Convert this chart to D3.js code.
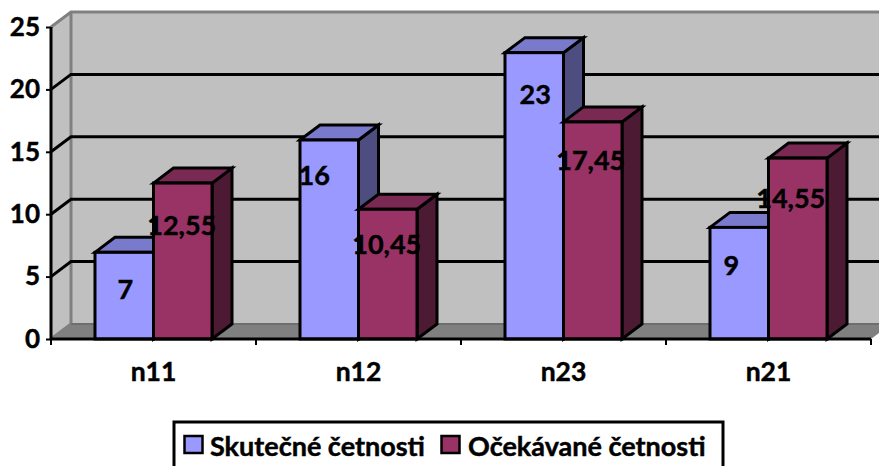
<!DOCTYPE html>
<html><head><meta charset="utf-8">
<script src="https://cdn.jsdelivr.net/npm/d3@7/dist/d3.min.js"></script>
<style>html,body{margin:0;padding:0;background:#fff;overflow:hidden}svg{display:block}text{font-family:Lato,"Open Sans",sans-serif;font-weight:700;fill:#000;stroke:#000;stroke-width:.45px}</style>
</head><body><svg id="c" width="879" height="466"></svg>
<script>
const categories = ["n11","n12","n23","n21"];
const seriesNames = ["Skutečné četnosti","Očekávané četnosti"];
const actualValues = [7,16,23,9];
const expectedValues = [12.55,10.45,17.45,14.55];
const actualLabels = ["7","16","23","9"];
const expectedLabels = ["12,55","10,45","17,45","14,55"];
const yTicks = [0,5,10,15,20,25];

// layout
const W=879,H=466,plotLeft=51,plotRight=871,base=339,plotTop=27,dx=20,dy=-15,barNudge=0.7;
const palette=[{front:"#9999FF",top:"#7A7ACC",side:"#4D4D80"},{front:"#993366",top:"#7A2952",side:"#4D1A33"}];
const labelShift=[[[1,37],[-1,42]],[[-15,35],[-1,35]],[[1,42],[-2,38]],[[-8,38],[-7,40]]];

const svg=d3.select("#c");
const x=d3.scaleBand().domain(categories).range([plotLeft,plotRight]);
const inner=d3.scaleBand().domain([0,1]).range([x.bandwidth()*0.2146,x.bandwidth()*0.7854]);
const y=d3.scaleLinear().domain([0,25]).range([base,plotTop]);
const poly=p=>p.map(q=>q.join(",")).join(" ");

// walls and floor
svg.append("polygon").attr("points",poly([[plotLeft,y(25)],[plotLeft+dx,y(25)+dy],[W+20,y(25)+dy],[W+20,base+dy],[plotLeft+dx,base+dy],[plotLeft,base]])).attr("fill","#C0C0C0");
svg.append("polygon").attr("points",poly([[plotLeft,base],[plotLeft+dx,base+dy],[plotRight+dx,base+dy],[plotRight,base]])).attr("fill","#808080");
const edge="#808080";
svg.append("path").attr("d",`M${plotLeft},${y(25)}L${plotLeft+dx},${y(25)+dy}L${W+5},${y(25)+dy}M${plotLeft+dx},${y(25)+dy}V${base+dy}L${plotLeft},${base}`).attr("fill","none").attr("stroke",edge).attr("stroke-width",3);
svg.append("line").attr("x1",plotLeft+dx).attr("x2",plotRight+dx).attr("y1",base+dy).attr("y2",base+dy).attr("stroke","#6e6e6e").attr("stroke-width",2);

// gridlines
svg.append("g").selectAll("path").data(yTicks.filter(d=>d>0&&d<25)).join("path")
  .attr("d",d=>`M${plotLeft},${y(d)}L${plotLeft+dx},${y(d)+dy}H${W+5}`)
  .attr("fill","none").attr("stroke","#000").attr("stroke-width",3);

// bars
const series=[actualValues,expectedValues];
categories.forEach((c,i)=>{
  series.forEach((vals,s)=>{
    const v=vals[i],x0=x(c)+inner(s),x1=x0+inner.bandwidth(),t=y(v)+barNudge,col=palette[s];
    const g=svg.append("g").attr("stroke","#000").attr("stroke-width",3).attr("stroke-linejoin","miter");
    g.append("polygon").attr("points",poly([[x1,t],[x1+dx,t+dy],[x1+dx,base+dy],[x1,base]])).attr("fill",col.side);
    g.append("polygon").attr("points",poly([[x0,t],[x0+dx,t+dy],[x1+dx,t+dy],[x1,t]])).attr("fill",col.top);
    g.append("rect").attr("x",x0).attr("y",t).attr("width",x1-x0).attr("height",base-t).attr("fill",col.front);
  });
});

// axes
const yAxis=svg.append("g").attr("transform",`translate(${plotLeft},0)`).call(d3.axisLeft(y).tickValues(yTicks).tickSize(5).tickPadding(6));
yAxis.selectAll("line").attr("stroke","#000").attr("stroke-width",2);
yAxis.select(".domain").attr("stroke","#000").attr("stroke-width",3).attr("d",`M0,${y(25)}V${base}`);
yAxis.selectAll("text").attr("font-size",26).style("font-family",'Lato,sans-serif').style("font-weight",700);

const xAxis=svg.append("g").attr("transform",`translate(0,${base})`).call(d3.axisBottom(x).tickSize(0).tickPadding(23));
xAxis.select(".domain").attr("stroke","#000").attr("stroke-width",3).attr("d",`M${plotLeft-1},0H${plotRight}`);
xAxis.selectAll("text").attr("font-size",26.5).style("font-family",'Lato,sans-serif').style("font-weight",700);
svg.append("g").selectAll("line").data(categories.concat("end")).join("line")
  .attr("x1",(d,i)=>plotLeft+i*x.step()).attr("x2",(d,i)=>plotLeft+i*x.step())
  .attr("y1",base).attr("y2",base+6).attr("stroke","#000").attr("stroke-width",2);

// value labels
const labelRows=[actualLabels,expectedLabels];
categories.forEach((c,i)=>{
  series.forEach((vals,s)=>{
    const sh=labelShift[i][s];
    svg.append("text").text(labelRows[s][i])
      .attr("x",x(c)+inner(s)+inner.bandwidth()/2+sh[0]).attr("y",y(vals[i])+sh[1])
      .attr("text-anchor","middle").attr("dominant-baseline","central").attr("font-size",27);
  });
});

// legend
svg.append("rect").attr("x",174).attr("y",422).attr("width",549).attr("height",60).attr("fill","#fff").attr("stroke","#000").attr("stroke-width",3);
const legendX=[184.5,441.5],textX=[210,468];
seriesNames.forEach((n,s)=>{
  svg.append("rect").attr("x",legendX[s]).attr("y",436).attr("width",18).attr("height",17).attr("fill",palette[s].front).attr("stroke","#000").attr("stroke-width",2.5);
  svg.append("text").text(n).attr("x",textX[s]).attr("y",445).attr("dominant-baseline","central").attr("font-size",27);
});
</script></body></html>
